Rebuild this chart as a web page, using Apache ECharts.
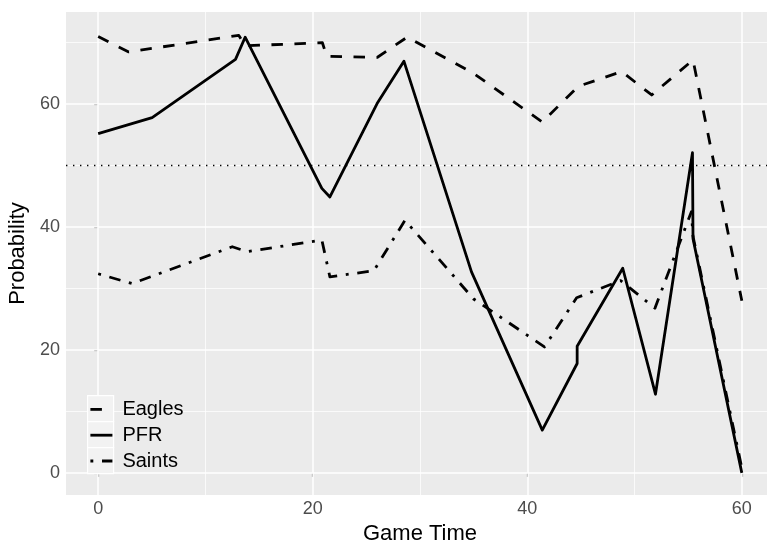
<!DOCTYPE html>
<html>
<head>
<meta charset="utf-8">
<script src="https://cdn.jsdelivr.net/npm/echarts@6/dist/echarts.min.js"></script>
<style>
html,body{margin:0;padding:0;background:#fff;overflow:hidden;width:767px;height:544px;}
#chart{width:775px;height:544px;position:absolute;left:0;top:0;}
</style>
</head>
<body>
<div id="chart"></div>
<script>
// ---- data ----
const seriesNames = ['Eagles', 'PFR', 'Saints'];

const eaglesTime = [0, 2.85, 13.1, 13.7, 20.9, 21.3, 26.0, 28.8, 35.0, 41.4, 44.75, 48.8, 51.6, 55.45, 60];
const eaglesProb = [71.0, 68.5, 71.2, 69.5, 70.0, 67.8, 67.6, 70.9, 65.0, 57.1, 62.9, 65.3, 61.5, 67.2, 28.0];

const pfrTime = [0, 5.03, 12.8, 13.7, 20.85, 21.6, 26.0, 28.5, 34.8, 41.4, 44.65, 44.65, 48.9, 51.95, 55.4, 55.45, 60];
const pfrProb = [55.2, 57.8, 67.3, 70.9, 46.3, 44.9, 60.1, 67.0, 32.7, 6.95, 17.8, 20.6, 33.3, 12.8, 52.1, 38.1, 0];

const saintsTime = [0, 3.17, 12.5, 13.9, 20.85, 21.6, 25.7, 28.6, 35.0, 41.6, 44.6, 48.7, 51.9, 55.3, 55.45, 60];
const saintsProb = [32.4, 30.8, 36.8, 36.0, 37.9, 31.9, 32.9, 41.1, 28.3, 20.5, 28.5, 31.3, 26.8, 42.5, 38.5, 0.8];

const refLevel = [50];

const xTicks = [0, 20, 40, 60];
const xMinor = [10, 30, 50];
const yTicks = [0, 20, 40, 60];
const yMinor = [10, 30, 50, 70];

const xTitle = 'Game Time';
const yTitle = 'Probability';

// ---- chart ----
const FONT = '"Liberation Sans", Arial, Helvetica, sans-serif';
function pairs(xs, ys) { return xs.map((x, i) => [x, ys[i]]); }

const chart = echarts.init(document.getElementById('chart'), null, {renderer: 'canvas', width: 775, height: 544});

const gridLineSeries = {
  type: 'line', data: [], silent: true, z: 1,
  markLine: {
    silent: true, z: 1, animation: false,
    symbol: ['none', 'none'],
    label: {show: false},
    emphasis: {disabled: true},
    data: [
      ...xMinor.map(v => ({xAxis: v, lineStyle: {color: '#ffffff', width: 0.75, type: 'solid'}})),
      ...yMinor.map(v => ({yAxis: v, lineStyle: {color: '#ffffff', width: 0.75, type: 'solid'}})),
      ...xTicks.map(v => ({xAxis: v, lineStyle: {color: '#ffffff', width: 1.5, type: 'solid'}})),
      ...yTicks.map(v => ({yAxis: v, lineStyle: {color: '#ffffff', width: 1.5, type: 'solid'}}))
    ]
  }
};

const lineCommon = {
  type: 'line', symbol: 'none', z: 2, animation: false,
  emphasis: {disabled: true}
};

const option = {
  animation: false,
  backgroundColor: '#ffffff',
  textStyle: {fontFamily: FONT},
  grid: {
    left: 66, top: 12, right: 1, bottom: 49,
    outerBoundsMode: 'none',
    show: true, backgroundColor: '#EBEBEB', borderWidth: 0, containLabel: false
  },
  xAxis: {
    type: 'value', min: -3, max: 63, splitNumber: 4,
    axisLine: {show: false},
    splitLine: {show: false},
    axisTick: {show: true, length: 4, customValues: xTicks, lineStyle: {color: '#333333', width: 1.1}},
    axisLabel: {customValues: xTicks, color: '#4D4D4D', fontSize: 18, margin: 5, fontFamily: FONT},
    name: xTitle, nameLocation: 'middle', nameGap: 23,
    nameTextStyle: {color: '#000000', fontSize: 22, fontFamily: FONT}
  },
  yAxis: {
    type: 'value', min: -3.6, max: 75, splitNumber: 4,
    axisLine: {show: false},
    splitLine: {show: false},
    axisTick: {show: true, length: 4, customValues: yTicks, lineStyle: {color: '#333333', width: 1.1}},
    axisLabel: {customValues: yTicks, color: '#4D4D4D', fontSize: 18, margin: 6, fontFamily: FONT},
    name: yTitle, nameLocation: 'middle', nameGap: 33, nameRotate: 90,
    nameTextStyle: {color: '#000000', fontSize: 22, fontFamily: FONT}
  },
  legend: {
    show: true, orient: 'vertical', left: 89, top: 399, padding: 0,
    itemWidth: 22, itemHeight: 26, itemGap: 5,
    data: seriesNames,
    itemStyle: {opacity: 0},
    lineStyle: {width: 2.8},
    textStyle: {color: '#000000', fontSize: 20, fontFamily: FONT, padding: [0, 0, 0, 5]},
    selectedMode: false, z: 4
  },
  graphic: {
    elements: seriesNames.map((n, i) => ({
      type: 'rect', left: 87, top: 395 + i * 26, z: 3, silent: true,
      shape: {width: 26, height: 26},
      style: {fill: '#F2F2F2', stroke: '#ffffff', lineWidth: 1.2}
    }))
  },
  series: [
    gridLineSeries,
    Object.assign({}, lineCommon, {
      name: 'Eagles', data: pairs(eaglesTime, eaglesProb),
      lineStyle: {color: '#000000', width: 2.8, type: [11.5, 11.5], cap: 'butt', join: 'round'},
      itemStyle: {color: '#000000'}
    }),
    Object.assign({}, lineCommon, {
      name: 'PFR', data: pairs(pfrTime, pfrProb),
      lineStyle: {color: '#000000', width: 2.8, type: 'solid', cap: 'butt', join: 'round'},
      itemStyle: {color: '#000000'}
    }),
    Object.assign({}, lineCommon, {
      name: 'Saints', data: pairs(saintsTime, saintsProb),
      lineStyle: {color: '#000000', width: 2.8, type: [2.9, 8.7, 11.6, 8.7], cap: 'butt', join: 'round'},
      itemStyle: {color: '#000000'}
    }),
    {
      type: 'line', data: [], silent: true, z: 3,
      markLine: {
        silent: true, animation: false,
        symbol: ['none', 'none'],
        label: {show: false},
        emphasis: {disabled: true},
        lineStyle: {color: '#000000', width: 1.4, type: [1.4, 5.6]},
        data: refLevel.map(v => ({yAxis: v}))
      }
    }
  ]
};

chart.setOption(option);
</script>
</body>
</html>
